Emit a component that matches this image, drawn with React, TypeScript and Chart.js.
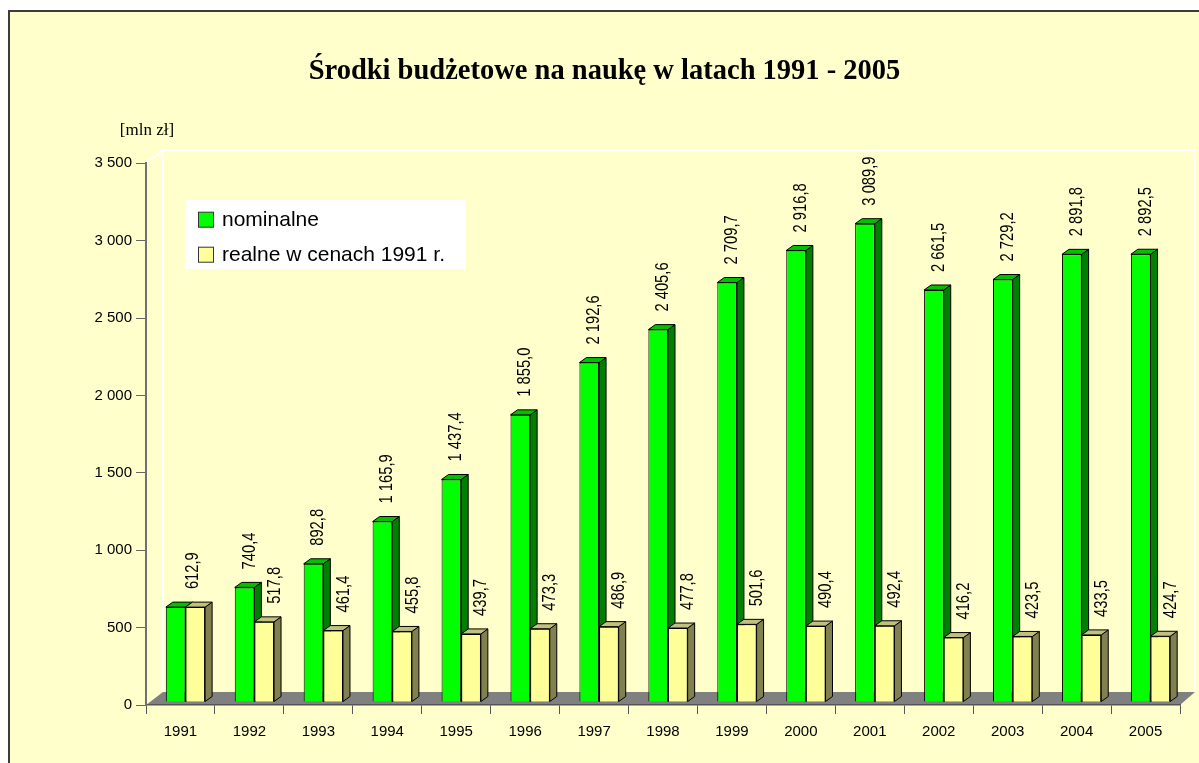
import React, { useEffect, useRef } from 'react';
import { Chart, registerables } from 'chart.js';

Chart.register(...registerables);

const years = ['1991', '1992', '1993', '1994', '1995', '1996', '1997', '1998', '1999', '2000', '2001', '2002', '2003', '2004', '2005'];
const nominal = [612.9, 740.4, 892.8, 1165.9, 1437.4, 1855.0, 2192.6, 2405.6, 2709.7, 2916.8, 3089.9, 2661.5, 2729.2, 2891.8, 2892.5];
const real = [612.9, 517.8, 461.4, 455.8, 439.7, 473.3, 486.9, 477.8, 501.6, 490.4, 492.4, 416.2, 423.5, 433.5, 424.7];
const seriesNames = ['nominalne', 'realne w cenach 1991 r.'];
const yMin = 0;
const yMax = 3500;
const yStep = 500;
const titleText = 'Środki budżetowe na naukę w latach 1991 - 2005';
const unitText = '[mln zł]';

const SANS = "'Liberation Sans', Arial, sans-serif";
const SERIF = "'Liberation Serif', 'Times New Roman', serif";

const faces = [
  { front: '#00FF00', side: '#008000', top: '#00C000' },
  { front: '#FFFF99', side: '#808050', top: '#C0C080' },
];

const BAR_DX = 7;
const BAR_DY = 5;
const SHIFT_X = 5;
const SHIFT_Y = -3;
const WALL_DX_L = 17;
const WALL_DX_R = 15;
const WALL_DY = 13;
const LABEL_DX = [5, 10.5];

const thousands = (s: string) => s.replace(/\B(?=(\d{3})+(?!\d))/g, ' ');
const fmtVal = (v: number) => {
  const [i, d] = v.toFixed(1).split('.');
  return thousands(i) + ',' + d;
};

function drawFaces(ctx: any, el: any, f: any) {
  const { x, y, base, width } = el.getProps(['x', 'y', 'base', 'width'], true);
  const l = x - width / 2;
  const r = x + width / 2;
  ctx.strokeStyle = '#000';
  ctx.lineWidth = 1;
  ctx.beginPath();
  ctx.moveTo(r, y);
  ctx.lineTo(r + BAR_DX, y - BAR_DY);
  ctx.lineTo(r + BAR_DX, base - BAR_DY);
  ctx.lineTo(r, base);
  ctx.closePath();
  ctx.fillStyle = f.side;
  ctx.fill();
  ctx.stroke();
  ctx.beginPath();
  ctx.moveTo(l, y);
  ctx.lineTo(l + BAR_DX, y - BAR_DY);
  ctx.lineTo(r + BAR_DX, y - BAR_DY);
  ctx.lineTo(r, y);
  ctx.closePath();
  ctx.fillStyle = f.top;
  ctx.fill();
  ctx.stroke();
}

const scenePlugin = {
  id: 'scene3d',
  beforeDraw(chart: any) {
    const { ctx, chartArea: a } = chart;
    ctx.save();
    ctx.beginPath();
    ctx.moveTo(a.left, a.bottom);
    ctx.lineTo(a.left + WALL_DX_L, a.bottom - WALL_DY);
    ctx.lineTo(a.right + WALL_DX_R, a.bottom - WALL_DY);
    ctx.lineTo(a.right, a.bottom);
    ctx.closePath();
    ctx.fillStyle = '#808080';
    ctx.fill();
    ctx.strokeStyle = '#FFFFFF';
    ctx.lineWidth = 2;
    ctx.beginPath();
    ctx.moveTo(a.left, a.top);
    ctx.lineTo(a.left + WALL_DX_L, a.top - WALL_DY);
    ctx.lineTo(a.right + WALL_DX_R, a.top - WALL_DY);
    ctx.lineTo(a.right + WALL_DX_R, a.bottom - WALL_DY);
    ctx.moveTo(a.left + WALL_DX_L, a.top - WALL_DY);
    ctx.lineTo(a.left + WALL_DX_L, a.bottom - WALL_DY);
    ctx.stroke();
    ctx.fillStyle = '#000';
    ctx.font = `17px ${SERIF}`;
    ctx.textAlign = 'center';
    ctx.textBaseline = 'middle';
    ctx.fillText(unitText, 137, 119);
    ctx.restore();
  },
  beforeDatasetsDraw(chart: any) {
    chart.ctx.save();
    chart.ctx.translate(SHIFT_X, SHIFT_Y);
  },
  afterDatasetsDraw(chart: any) {
    const { ctx } = chart;
    const m0 = chart.getDatasetMeta(0).data;
    const m1 = chart.getDatasetMeta(1).data;
    ctx.save();
    // painter's order: green faces, then yellow bar on top with its faces
    m0.forEach((el: any) => drawFaces(ctx, el, faces[0]));
    m1.forEach((el: any) => {
      el.draw(ctx);
      drawFaces(ctx, el, faces[1]);
    });
    ctx.fillStyle = '#000';
    ctx.font = `18px ${SANS}`;
    ctx.textAlign = 'left';
    ctx.textBaseline = 'middle';
    const put = (text: string, cx: number, yTop: number) => {
      ctx.save();
      ctx.translate(cx, yTop - BAR_DY - 13);
      ctx.rotate(-Math.PI / 2);
      ctx.scale(0.82, 1);
      ctx.fillText(text, 0, 0);
      ctx.restore();
    };
    years.forEach((_, i) => {
      const a = m0[i];
      const b = m1[i];
      if (nominal[i] === real[i]) {
        put(fmtVal(real[i]), (a.x + b.x) / 2 + 8, Math.min(a.y, b.y));
      } else {
        put(fmtVal(nominal[i]), a.x + LABEL_DX[0], a.y);
        put(fmtVal(real[i]), b.x + LABEL_DX[1], b.y);
      }
    });
    ctx.restore();
    ctx.restore(); // undo translate
  },
  afterDraw(chart: any) {
    const { ctx } = chart;
    ctx.save();
    ctx.fillStyle = '#FFFFFF';
    ctx.fillRect(175, 188, 281, 69);
    ctx.font = `21px ${SANS}`;
    ctx.textAlign = 'left';
    ctx.textBaseline = 'middle';
    const rows = [207.7, 242.7];
    seriesNames.forEach((name, i) => {
      const cy = rows[i];
      ctx.fillStyle = faces[i].front;
      ctx.fillRect(188.5, cy - 7.5, 15, 15);
      ctx.strokeStyle = '#333';
      ctx.lineWidth = 1;
      ctx.strokeRect(188.5, cy - 7.5, 15, 15);
      ctx.fillStyle = '#000';
      ctx.fillText(name, 212, cy + 1);
    });
    ctx.restore();
  },
};

export default function App() {
  const ref = useRef<HTMLCanvasElement | null>(null);
  useEffect(() => {
    if (!ref.current) return;
    const chart = new Chart(ref.current, {
      type: 'bar',
      data: {
        labels: years,
        datasets: [
          {
            label: seriesNames[0],
            data: nominal,
            backgroundColor: faces[0].front,
            borderColor: '#000',
            borderWidth: 1,
            categoryPercentage: 0.57,
            barPercentage: 1,
          },
          {
            label: seriesNames[1],
            data: real,
            backgroundColor: faces[1].front,
            borderColor: '#000',
            borderWidth: 1,
            categoryPercentage: 0.57,
            barPercentage: 1,
          },
        ],
      },
      options: {
        responsive: false,
        animation: false,
        events: [],
        layout: { padding: { left: 19, right: 19, top: 0, bottom: 0 } },
        plugins: {
          legend: { display: false },
          tooltip: { enabled: false },
          title: {
            display: true,
            text: titleText,
            color: '#000',
            font: { family: SERIF, size: 28.5, weight: 'bold' },
            padding: { top: 43, bottom: 74 },
          },
        },
        scales: {
          x: {
            grid: { drawOnChartArea: false, drawTicks: true, tickLength: 9, color: '#555', offset: true },
            border: { display: true, color: '#555', width: 1.5 },
            ticks: { color: '#000', font: { family: SANS, size: 15 }, padding: 9, maxRotation: 0 },
            afterFit: (s: any) => { s.height = 58; },
          },
          y: {
            min: yMin,
            max: yMax,
            grid: { drawOnChartArea: false, drawTicks: true, tickLength: 10, color: '#666' },
            border: { display: true, color: '#707070', width: 2 },
            ticks: {
              stepSize: yStep,
              color: '#000',
              padding: 4,
              font: { family: SANS, size: 15 },
              callback: (v: any) => thousands(String(v)),
            },
            afterFit: (s: any) => { s.width = 117; },
          },
        },
      },
      plugins: [scenePlugin],
    });
    return () => chart.destroy();
  }, []);

  return (
    <div
      style={{
        position: 'absolute',
        left: 8,
        top: 10,
        width: 1191,
        height: 753,
        boxSizing: 'border-box',
        background: '#FFFFCC',
        borderTop: '2px solid #3c3c3c',
        borderLeft: '2px solid #3c3c3c',
        overflow: 'hidden',
      }}
    >
      <canvas ref={ref} width={1189} height={751} style={{ display: 'block' }} />
    </div>
  );
}
